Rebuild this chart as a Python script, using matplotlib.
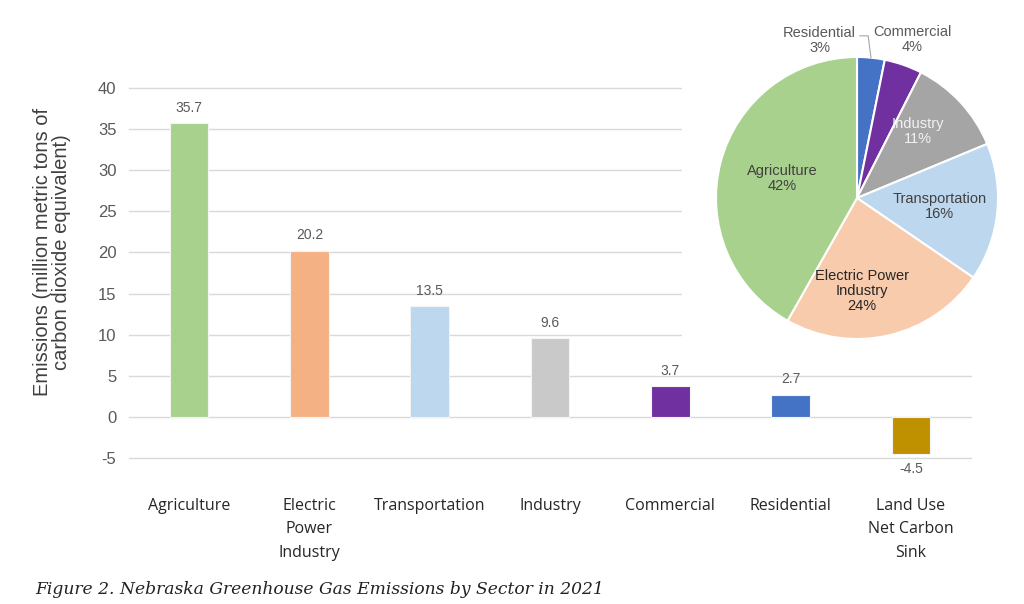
import numpy as np
import matplotlib
matplotlib.use("Agg")
import matplotlib.pyplot as plt

SECTORS = [
    "Agriculture",
    "Electric\nPower\nIndustry",
    "Transportation",
    "Industry",
    "Commercial",
    "Residential",
    "Land Use\nNet Carbon\nSink",
]
EMISSIONS = [35.7, 20.2, 13.5, 9.6, 3.7, 2.7, -4.5]
BAR_COLORS = ["#A9D18E", "#F4B183", "#BDD7EE", "#C9C9C9", "#7030A0", "#4472C4", "#BF9000"]
Y_TICKS = [-5, 0, 5, 10, 15, 20, 25, 30, 35, 40]

PIE_LABELS = ["Residential", "Commercial", "Industry", "Transportation",
              "Electric Power\nIndustry", "Agriculture"]
PIE_VALUES = [2.7, 3.7, 9.6, 13.5, 20.2, 35.7]
PIE_COLORS = ["#4472C4", "#7030A0", "#A5A5A5", "#BDD7EE", "#F8CBAD", "#A9D18E"]
PIE_TEXT_COLORS = ["#595959", "#595959", "#F2F2F2", "#404040", "#262626", "#404040"]

SANS = ["Liberation Sans", "DejaVu Sans"]

W, H = 1024, 604
fig = plt.figure(figsize=(W / 100, H / 100), dpi=100)
fig.patch.set_facecolor("white")

# bar chart ---------------------------------------------------------------
ax = fig.add_axes([129 / W, 1 - 458 / H, (971 - 129) / W, (458 - 88) / H])
x = np.arange(len(SECTORS))
ax.bar(x, EMISSIONS, width=0.32, color=BAR_COLORS, edgecolor="#f4f4f4",
       linewidth=0.8, zorder=3)
for xi, v in zip(x, EMISSIONS):
    if v >= 0:
        ax.annotate(f"{v}", (xi, v), xytext=(0, 6), textcoords="offset points",
                    ha="center", va="bottom", fontsize=10, color="#595959",
                    family=SANS)
    else:
        ax.annotate(f"{v}", (xi, v), xytext=(0, -6), textcoords="offset points",
                    ha="center", va="top", fontsize=10, color="#595959",
                    family=SANS)

ax.set_xlim(-0.5, len(SECTORS) - 0.5)
ax.set_ylim(-5, 40)
ax.set_yticks(Y_TICKS)
ax.set_yticklabels([str(t) for t in Y_TICKS], family=SANS, fontsize=12,
                   color="#595959")
ax.grid(axis="y", color="#d9d9d9", linewidth=1, zorder=0, clip_on=False)
ax.set_axisbelow(True)
ax.tick_params(axis="y", length=0, pad=9)
ax.tick_params(axis="x", length=0)
ax.set_xticks(x)
ax.set_xticklabels([])
for s in ax.spines.values():
    s.set_visible(False)

# category labels under the plot
for xi, name in zip(x, SECTORS):
    ax.text(xi, -9.9, name, ha="center", va="top", fontsize=11.5,
            color="#262626", family=["Open Sans", "DejaVu Sans"],
            linespacing=1.6)

fig.text(52 / W, 1 - 252 / H,
         "Emissions (million metric tons of\ncarbon dioxide equivalent)",
         rotation=90, ha="center", va="center", fontsize=14.5, color="#404040",
         family=SANS, linespacing=1.0)

# pie chart ---------------------------------------------------------------
px0, px1, py0, py1 = 682, 1024, 0, 345
cx, cy, rad = 857, 198, 141
axp = fig.add_axes([px0 / W, 1 - py1 / H, (px1 - px0) / W, (py1 - py0) / H])
wedges, _ = axp.pie(PIE_VALUES, colors=PIE_COLORS, startangle=90,
                    counterclock=False, radius=1,
                    wedgeprops=dict(edgecolor="white", linewidth=1.5))
axp.set_xlim((px0 - cx) / rad, (px1 - cx) / rad)
axp.set_ylim((cy - py1) / rad, (cy - py0) / rad)
axp.set_aspect("equal")
axp.set_frame_on(True)
axp.set_facecolor("white")
for s in axp.spines.values():
    s.set_visible(False)

total = sum(PIE_VALUES)
label_r = [1.15, 1.19, 0.64, 0.59, 0.66, 0.55]
angle_shift = [19, 0, 5, 0, -10, 0]
for w, lab, v, r, da, tc in zip(wedges, PIE_LABELS, PIE_VALUES, label_r,
                                angle_shift, PIE_TEXT_COLORS):
    mid = np.deg2rad((w.theta1 + w.theta2) / 2 + da)
    tx, ty = r * np.cos(mid), r * np.sin(mid)
    axp.text(tx, ty, f"{lab}\n{v / total * 100:.0f}%", ha="center",
             va="center", fontsize=10.5, color=tc, family=SANS,
             linespacing=1.1)

# leader line for the residential label
w0 = wedges[0]
mid0 = np.deg2rad((w0.theta1 + w0.theta2) / 2)
ex, ey = np.cos(mid0), np.sin(mid0)
axp.plot([ex, ex - 0.02, 0.02], [ey, 1.15, 1.15], color="#a6a6a6",
         linewidth=0.8)

fig.text(35 / W, 1 - 590 / H,
         "Figure 2. Nebraska Greenhouse Gas Emissions by Sector in 2021",
         ha="left", va="center", fontsize=12.3, style="italic",
         color="#222222", family=["DejaVu Serif"])

fig.savefig("out.png", dpi=100, facecolor="white")
